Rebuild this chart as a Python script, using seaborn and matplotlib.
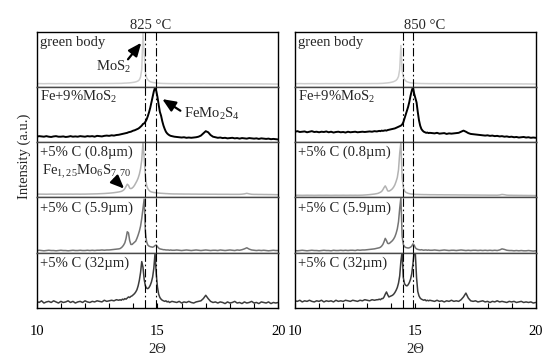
import numpy as np
import pandas as pd
import matplotlib
matplotlib.use("Agg")
import matplotlib.pyplot as plt
import matplotlib.transforms as mtransforms
import seaborn as sns

# ---------------- data ----------------
# 2-theta sampling: coarse (0.1) away from the main peaks, fine (0.05) between 13.45 and 15.6
two_theta = np.round(np.concatenate([np.linspace(10.0, 13.4, 35),
                                     np.linspace(13.45, 15.6, 44),
                                     np.linspace(15.7, 20.0, 44)]), 3)

temperatures = ["825 °C", "850 °C"]
samples = ["green body", "Fe+9%MoS$_2$", "+5% C (0.8µm)", "+5% C (5.9µm)", "+5% C (32µm)"]
reference_lines = [14.47, 14.92]
x_ticks = [10, 15, 20]

# ---- 825 °C (normalised intensity inside each strip) ----
green_825 = ([0.060,0.061,0.060,0.059,0.060, 0.061,0.060,0.060,0.059,0.060, 0.061,0.060,0.060,0.059,0.060,
              0.061,0.060,0.060,0.061,0.060, 0.060,0.061,0.060,0.061,0.060, 0.061,0.061,0.062,0.061,0.062,
              0.062,0.063,0.063,0.064,0.064]
             + [0.065,0.065,0.067,0.068,0.070, 0.070,0.072,0.073,0.075,0.077, 0.080,0.083,0.087,0.092,0.100,
                0.110,0.130,0.180,0.320,0.970, 0.620,0.260,0.170,0.130,0.110, 0.095,0.088,0.082,0.078,0.075,
                0.072,0.070,0.068,0.066,0.065, 0.064,0.063,0.063,0.062,0.062, 0.061,0.061,0.061,0.060]
             + [0.060,0.060,0.061,0.060,0.060, 0.059,0.060,0.060,0.059,0.060, 0.059,0.059,0.060,0.059,0.058,
                0.059,0.058,0.058,0.059,0.058, 0.058,0.057,0.058,0.057,0.057, 0.058,0.057,0.056,0.057,0.056,
                0.056,0.057,0.056,0.055,0.056, 0.055,0.055,0.054,0.055,0.054, 0.054,0.053,0.053,0.052])
fe_825 = ([0.100,0.110,0.105,0.100,0.110, 0.100,0.095,0.105,0.110,0.100, 0.100,0.105,0.095,0.100,0.110,
           0.100,0.105,0.100,0.110,0.105, 0.100,0.110,0.105,0.110,0.100, 0.115,0.110,0.105,0.115,0.120,
           0.115,0.125,0.120,0.130,0.135]
          + [0.140,0.145,0.150,0.155,0.160, 0.165,0.170,0.180,0.185,0.190, 0.200,0.210,0.215,0.225,0.235,
             0.245,0.260,0.280,0.300,0.330, 0.340,0.370,0.410,0.470,0.540, 0.620,0.720,0.820,0.920,0.990,
             0.930,0.820,0.680,0.550,0.480, 0.380,0.300,0.240,0.190,0.160, 0.140,0.125,0.115,0.110]
          + [0.100,0.095,0.090,0.085,0.090, 0.080,0.085,0.080,0.085,0.090, 0.100,0.120,0.160,0.200,0.180,
             0.130,0.100,0.090,0.080,0.085, 0.075,0.080,0.070,0.075,0.080, 0.070,0.075,0.065,0.075,0.070,
             0.065,0.075,0.070,0.065,0.070, 0.060,0.070,0.065,0.060,0.065, 0.055,0.060,0.055,0.050])
c08_825 = ([0.060,0.061,0.060,0.060,0.059, 0.060,0.061,0.060,0.060,0.061, 0.060,0.060,0.061,0.060,0.061,
            0.060,0.061,0.061,0.060,0.061, 0.061,0.062,0.063,0.064,0.065, 0.066,0.068,0.070,0.072,0.075,
            0.078,0.082,0.087,0.093,0.100]
           + [0.105,0.110,0.120,0.135,0.160, 0.200,0.240,0.220,0.170,0.160, 0.170,0.190,0.220,0.260,0.300,
              0.350,0.420,0.520,0.680,1.000, 0.720,0.380,0.220,0.160,0.130, 0.110,0.100,0.095,0.090,0.088,
              0.085,0.083,0.080,0.078,0.076, 0.075,0.073,0.072,0.070,0.070, 0.068,0.067,0.066,0.065]
           + [0.064,0.064,0.063,0.063,0.062, 0.062,0.062,0.061,0.061,0.061, 0.060,0.060,0.060,0.060,0.059,
              0.059,0.059,0.059,0.058,0.058, 0.058,0.058,0.058,0.057,0.057, 0.057,0.057,0.057,0.060,0.065,
              0.075,0.065,0.058,0.056,0.056, 0.055,0.055,0.054,0.054,0.053, 0.053,0.052,0.051,0.050])
c59_825 = ([0.040,0.045,0.040,0.035,0.040, 0.045,0.040,0.040,0.035,0.040, 0.045,0.040,0.040,0.035,0.040,
            0.045,0.040,0.040,0.045,0.040, 0.040,0.045,0.040,0.045,0.040, 0.045,0.045,0.050,0.045,0.050,
            0.050,0.055,0.060,0.065,0.070]
           + [0.075,0.090,0.110,0.140,0.180, 0.260,0.380,0.360,0.220,0.150, 0.150,0.170,0.190,0.210,0.260,
              0.320,0.390,0.480,0.620,0.800, 0.970,0.380,0.200,0.140,0.120, 0.110,0.105,0.100,0.110,0.130,
              0.140,0.110,0.085,0.070,0.065, 0.060,0.055,0.055,0.050,0.050, 0.050,0.045,0.050,0.045]
           + [0.045,0.050,0.045,0.040,0.045, 0.050,0.045,0.040,0.045,0.050, 0.045,0.040,0.045,0.050,0.045,
              0.040,0.045,0.045,0.040,0.050, 0.045,0.040,0.045,0.050,0.045, 0.040,0.050,0.045,0.055,0.070,
              0.090,0.065,0.050,0.045,0.040, 0.045,0.040,0.045,0.040,0.035, 0.040,0.045,0.040,0.040])
c32_825 = ([0.12,0.10,0.13,0.09,0.11, 0.12,0.10,0.13,0.11,0.09, 0.12,0.10,0.11,0.13,0.10,
            0.12,0.09,0.11,0.12,0.10, 0.13,0.11,0.10,0.12,0.11, 0.13,0.12,0.11,0.14,0.12,
            0.13,0.14,0.13,0.15,0.14]
           + [0.15,0.14,0.16,0.15,0.17, 0.16,0.18,0.20,0.19,0.21, 0.22,0.24,0.26,0.29,0.33,
              0.40,0.50,0.64,0.84,0.74, 0.52,0.40,0.36,0.35,0.37, 0.41,0.47,0.56,0.72,0.99,
              0.62,0.38,0.25,0.19,0.16, 0.14,0.13,0.12,0.13,0.11, 0.12,0.10,0.11,0.12]
           + [0.11,0.10,0.12,0.09,0.11, 0.10,0.12,0.10,0.09,0.11, 0.12,0.13,0.17,0.23,0.17,
              0.12,0.10,0.11,0.09,0.11, 0.10,0.08,0.11,0.09,0.10, 0.12,0.09,0.10,0.08,0.11,
              0.09,0.10,0.12,0.09,0.10, 0.08,0.11,0.10,0.09,0.11, 0.08,0.10,0.09,0.10])

# ---- 850 °C ----
green_850 = ([0.060,0.060,0.061,0.060,0.059, 0.060,0.060,0.061,0.060,0.060, 0.059,0.060,0.060,0.061,0.060,
              0.060,0.060,0.061,0.060,0.060, 0.061,0.060,0.061,0.060,0.061, 0.061,0.060,0.061,0.061,0.061,
              0.061,0.061,0.062,0.062,0.062]
             + [0.062,0.063,0.064,0.065,0.066, 0.068,0.070,0.072,0.074,0.077, 0.080,0.085,0.090,0.097,0.107,
                0.120,0.145,0.190,0.320,0.750, 0.300,0.180,0.135,0.110,0.095, 0.087,0.080,0.076,0.073,0.070,
                0.068,0.066,0.065,0.064,0.063, 0.063,0.062,0.062,0.062,0.061, 0.061,0.061,0.060,0.060]
             + [0.060,0.060,0.060,0.059,0.060, 0.060,0.059,0.060,0.059,0.059, 0.059,0.058,0.059,0.059,0.058,
                0.058,0.058,0.058,0.057,0.058, 0.057,0.057,0.058,0.057,0.057, 0.057,0.056,0.057,0.056,0.056,
                0.056,0.056,0.055,0.056,0.055, 0.055,0.055,0.055,0.054,0.055, 0.054,0.054,0.054,0.053])
fe_850 = ([0.190,0.200,0.185,0.190,0.195, 0.180,0.190,0.200,0.185,0.190, 0.180,0.190,0.185,0.195,0.180,
           0.190,0.175,0.185,0.190,0.180, 0.185,0.175,0.190,0.180,0.185, 0.190,0.180,0.185,0.190,0.185,
           0.190,0.195,0.190,0.200,0.195]
          + [0.200,0.205,0.200,0.210,0.205, 0.210,0.215,0.210,0.220,0.225, 0.230,0.235,0.240,0.245,0.250,
             0.260,0.270,0.280,0.290,0.300, 0.320,0.360,0.430,0.500,0.570, 0.640,0.730,0.840,0.930,1.000,
             0.880,0.800,0.720,0.550,0.400, 0.300,0.240,0.210,0.190,0.180, 0.170,0.175,0.165,0.170]
          + [0.165,0.160,0.170,0.155,0.160, 0.165,0.150,0.160,0.155,0.160, 0.165,0.170,0.190,0.210,0.190,
             0.165,0.150,0.145,0.140,0.135, 0.130,0.125,0.120,0.125,0.115, 0.120,0.110,0.115,0.105,0.110,
             0.100,0.105,0.095,0.100,0.090, 0.095,0.085,0.090,0.095,0.085, 0.090,0.080,0.085,0.080])
c08_850 = ([0.040,0.041,0.040,0.039,0.040, 0.041,0.040,0.040,0.039,0.040, 0.041,0.040,0.040,0.041,0.040,
            0.039,0.040,0.041,0.040,0.040, 0.041,0.040,0.040,0.041,0.040, 0.041,0.040,0.041,0.042,0.045,
            0.048,0.052,0.057,0.062,0.070]
           + [0.075,0.085,0.095,0.110,0.140, 0.180,0.210,0.170,0.120,0.115, 0.125,0.140,0.160,0.190,0.230,
              0.290,0.360,0.500,0.800,1.000, 0.360,0.180,0.120,0.095,0.085, 0.075,0.070,0.065,0.062,0.060,
              0.058,0.056,0.055,0.055,0.054, 0.054,0.053,0.053,0.052,0.052, 0.052,0.051,0.051,0.050]
           + [0.050,0.050,0.049,0.049,0.049, 0.048,0.048,0.048,0.047,0.047, 0.047,0.046,0.046,0.046,0.045,
              0.045,0.045,0.044,0.044,0.044, 0.043,0.043,0.043,0.042,0.042, 0.042,0.042,0.041,0.045,0.055,
              0.050,0.042,0.040,0.040,0.039, 0.039,0.038,0.038,0.037,0.037, 0.036,0.036,0.035,0.035])
c59_850 = ([0.040,0.035,0.040,0.045,0.040, 0.035,0.040,0.045,0.040,0.040, 0.035,0.040,0.045,0.040,0.040,
            0.035,0.045,0.040,0.040,0.045, 0.040,0.045,0.040,0.045,0.045, 0.040,0.050,0.045,0.050,0.050,
            0.055,0.060,0.065,0.070,0.080]
           + [0.085,0.090,0.100,0.120,0.150, 0.200,0.260,0.220,0.170,0.165, 0.180,0.200,0.220,0.250,0.290,
              0.350,0.430,0.560,0.800,1.000, 0.300,0.150,0.110,0.095,0.090, 0.085,0.090,0.100,0.120,0.160,
              0.140,0.090,0.070,0.060,0.055, 0.050,0.055,0.050,0.045,0.050, 0.050,0.045,0.050,0.045]
           + [0.045,0.050,0.045,0.040,0.045, 0.050,0.045,0.040,0.045,0.045, 0.040,0.045,0.050,0.045,0.040,
              0.045,0.040,0.045,0.045,0.040, 0.045,0.040,0.045,0.040,0.045, 0.040,0.045,0.040,0.050,0.070,
              0.060,0.045,0.040,0.040,0.035, 0.040,0.035,0.040,0.035,0.035, 0.040,0.035,0.030,0.035])
c32_850 = ([0.13,0.12,0.14,0.11,0.13, 0.12,0.14,0.12,0.11,0.13, 0.12,0.14,0.11,0.13,0.12,
            0.13,0.11,0.14,0.12,0.13, 0.12,0.14,0.13,0.12,0.14, 0.13,0.12,0.14,0.13,0.15,
            0.14,0.13,0.15,0.14,0.15]
           + [0.15,0.16,0.15,0.17,0.17, 0.20,0.25,0.29,0.24,0.20, 0.21,0.22,0.23,0.25,0.28,
              0.32,0.37,0.45,0.58,0.85, 1.02,0.55,0.44,0.41,0.40, 0.42,0.46,0.52,0.62,0.80,
              1.02,0.98,0.55,0.30,0.22, 0.18,0.16,0.15,0.14,0.15, 0.13,0.14,0.13,0.14]
           + [0.13,0.12,0.14,0.12,0.13, 0.11,0.13,0.12,0.14,0.12, 0.13,0.12,0.15,0.20,0.27,
              0.18,0.13,0.12,0.13,0.11, 0.12,0.13,0.11,0.12,0.10, 0.12,0.11,0.13,0.11,0.12,
              0.11,0.10,0.12,0.11,0.12, 0.10,0.11,0.12,0.10,0.11, 0.10,0.11,0.09,0.10])

series = {"825 °C": [green_825, fe_825, c08_825, c59_825, c32_825],
          "850 °C": [green_850, fe_850, c08_850, c59_850, c32_850]}
for t, lst in series.items():
    for s in lst:
        if len(s) != len(two_theta):
            raise ValueError(f"length mismatch {t}: {len(s)}")

rows = []
for t in temperatures:
    for name, vals in zip(samples, series[t]):
        for xv, yv in zip(two_theta, vals):
            rows.append((t, name, xv, yv))
df = pd.DataFrame(rows, columns=["temp", "sample", "two_theta", "intensity"])

# ---------------- style ----------------
sns.set_style("white")
plt.rcParams["font.family"] = ["Liberation Serif", "DejaVu Serif"]
plt.rcParams["mathtext.fontset"] = "custom"
plt.rcParams["mathtext.rm"] = "Liberation Serif"
plt.rcParams["mathtext.it"] = "Liberation Serif:italic"
plt.rcParams["mathtext.default"] = "regular"
plt.rcParams["lines.scale_dashes"] = False

FS = 10.5
line_colors = ["#cdcdcd", "#000000", "#b2b2b2", "#747474", "#3c3c3c"]
line_widths = [1.1, 1.4, 1.1, 1.1, 1.1]

fig = plt.figure(figsize=(5.5, 3.64), dpi=100)
panel_left = [36.7 / 550, 295.0 / 550]
panel_width = [241.5 / 550, 240.7 / 550]
top = 1 - 31.7 / 364
bottom = 1 - 308.0 / 364
row_h = (top - bottom) / 5
title_x = {"825 °C": 14.72, "850 °C": 15.39}

axes = {}
for p, t in enumerate(temperatures):
    for r, name in enumerate(samples):
        ax = fig.add_axes([panel_left[p], top - (r + 1) * row_h, panel_width[p], row_h])
        axes[(p, r)] = ax
        sub = df[(df["temp"] == t) & (df["sample"] == name)]
        sns.lineplot(data=sub, x="two_theta", y="intensity", ax=ax, color=line_colors[r],
                     linewidth=line_widths[r], legend=False, zorder=2)
        ax.set_xlim(10, 20)
        ax.set_ylim(0, 1)
        ax.set_yticks([])
        ax.set_ylabel("")
        for xl in reference_lines:
            ax.axvline(xl, color="black", lw=0.8, linestyle=(0, (6, 2, 1.2, 2)), zorder=3)
        ax.text(0.012, 0.745, name, transform=ax.transAxes, ha="left", va="baseline", fontsize=FS)
        for side in ["left", "right", "top", "bottom"]:
            ax.spines[side].set_visible(True)
            ax.spines[side].set_linewidth(1.0)
            ax.spines[side].set_color("black")
        if r > 0:
            ax.spines["top"].set_color("#4a4a4a")
        if r < 4:
            ax.spines["bottom"].set_color("#4a4a4a")
            ax.set_xticks([])
            ax.set_xlabel("")
        else:
            ax.set_xticks(x_ticks)
            ax.set_xticks(np.arange(10, 21, 1), minor=True)
            ax.set_xticklabels([str(v) for v in x_ticks])
            ax.tick_params(axis="x", which="both", direction="in", length=3.6, width=0.8,
                           bottom=True, top=False, labelsize=FS, pad=12.5, colors="black")
            ax.set_xlabel("2Θ", fontsize=FS, labelpad=3.5)
        if r == 0:
            trans = mtransforms.blended_transform_factory(ax.transData, ax.transAxes)
            ax.text(title_x[t], 1.045, t, transform=trans, ha="center", va="baseline", fontsize=FS)

# annotations (825 °C panel)
arrow = dict(arrowstyle="-|>,head_length=0.75,head_width=0.32", color="black", lw=1.6,
             shrinkA=0, shrinkB=0)
a0 = axes[(0, 0)]
a0.text(13.19, 0.37, "MoS$_2$", ha="center", va="center", fontsize=FS)
a0.annotate("", xy=(14.33, 0.80), xytext=(13.78, 0.50), arrowprops=arrow, fontsize=FS)
a1 = axes[(0, 1)]
a1.text(16.1, 0.52, "FeMo$_2$S$_4$", ha="left", va="center", fontsize=FS)
a1.annotate("", xy=(15.2, 0.78), xytext=(15.95, 0.57), arrowprops=arrow, fontsize=FS)
a2 = axes[(0, 2)]
a2.text(10.2, 0.47, "Fe$_{1,25}$Mo$_6$S$_{7,70}$", ha="left", va="center", fontsize=FS)
a2.annotate("", xy=(13.62, 0.16), xytext=(13.22, 0.33), arrowprops=arrow, fontsize=FS)

fig.text(0.0436, 0.57, "Intensity (a.u.)", rotation=90, ha="center", va="center", fontsize=FS)

fig.savefig("out.png", dpi=100)
